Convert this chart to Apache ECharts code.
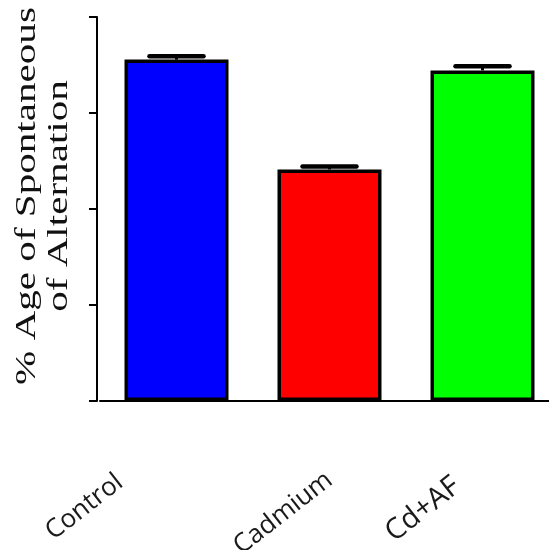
<!DOCTYPE html>
<html>
<head>
<meta charset="utf-8">
<script src="https://cdn.jsdelivr.net/npm/echarts@6/dist/echarts.min.js"></script>
<style>html,body{margin:0;padding:0;background:#fff;}#c{width:549px;height:550px;}</style>
</head>
<body>
<div id="c"></div>
<script>
var categories = ['Control', 'Cadmium', 'Cd+AF'];
var values = [88.9, 60.3, 86.1];
var errors = [0.9, 0.8, 1.1];
var barColors = ['#0000ff', '#ff0000', '#00ff00'];
var yTicks = [0, 25, 50, 75, 100];

var chart = echarts.init(document.getElementById('c'), null, {renderer: 'canvas'});
var labelKeys = ['c', 'm', 'a'];
chart.setOption({
  animation: false,
  backgroundColor: '#fff',
  grid: {left: 100, right: -10, top: 17, bottom: 149, containLabel: false, outerBoundsMode: 'none'},
  xAxis: {
    type: 'category',
    data: categories,
    axisLine: {lineStyle: {color: '#000', width: 2}},
    axisTick: {alignWithLabel: true, length: 9, lineStyle: {color: '#000', width: 2}},
    axisLabel: {
      rotate: 38, margin: 76, interval: 0,
      formatter: function (v, i) { return '{' + labelKeys[i] + '|' + v + '}'; },
      rich: {
        c: {fontFamily: 'Open Sans', fontSize: 26, color: '#1a1a1a', padding: [0, 46, 66, 0]},
        m: {fontFamily: 'Open Sans', fontSize: 26, color: '#1a1a1a'},
        a: {fontFamily: 'Open Sans', fontSize: 29, color: '#1a1a1a', padding: [0, 24, 22, 0]}
      }
    }
  },
  yAxis: {
    type: 'value', min: yTicks[0], max: yTicks[yTicks.length - 1], interval: 25,
    offset: 3,
    axisLine: {show: true, lineStyle: {color: '#000', width: 2}},
    axisTick: {show: true, length: 8, lineStyle: {color: '#000', width: 2}},
    axisLabel: {show: false},
    splitLine: {show: false}
  },
  graphic: [{
    type: 'text',
    x: 43, y: 196,
    rotation: Math.PI / 2,
    scaleX: 1.37,
    style: {
      text: '% Age of Spontaneous\nof Alternation',
      fontFamily: 'Liberation Serif',
      fontSize: 30,
      lineHeight: 32,
      fill: '#111',
      textAlign: 'center',
      textVerticalAlign: 'middle'
    }
  }],
  series: [{
    type: 'bar',
    barWidth: 104,
    data: values.map(function (v, i) {
      return {value: v, itemStyle: {color: barColors[i], borderColor: '#000', borderWidth: 3.5}};
    }),
    z: 2
  }, {
    type: 'custom',
    z: 3,
    data: values.map(function (v, i) { return [i, v, v + errors[i]]; }),
    renderItem: function (params, api) {
      var base = api.coord([api.value(0), api.value(1)]);
      var top = api.coord([api.value(0), api.value(2)]);
      var hw = 27;
      return {
        type: 'group',
        children: [
          {type: 'line', shape: {x1: base[0], y1: base[1], x2: top[0], y2: top[1]}, style: {stroke: '#000', lineWidth: 3}},
          {type: 'line', shape: {x1: top[0] - hw, y1: top[1], x2: top[0] + hw, y2: top[1]}, style: {stroke: '#000', lineWidth: 4.5, lineCap: 'round'}}
        ]
      };
    }
  }]
});
</script>
</body>
</html>
